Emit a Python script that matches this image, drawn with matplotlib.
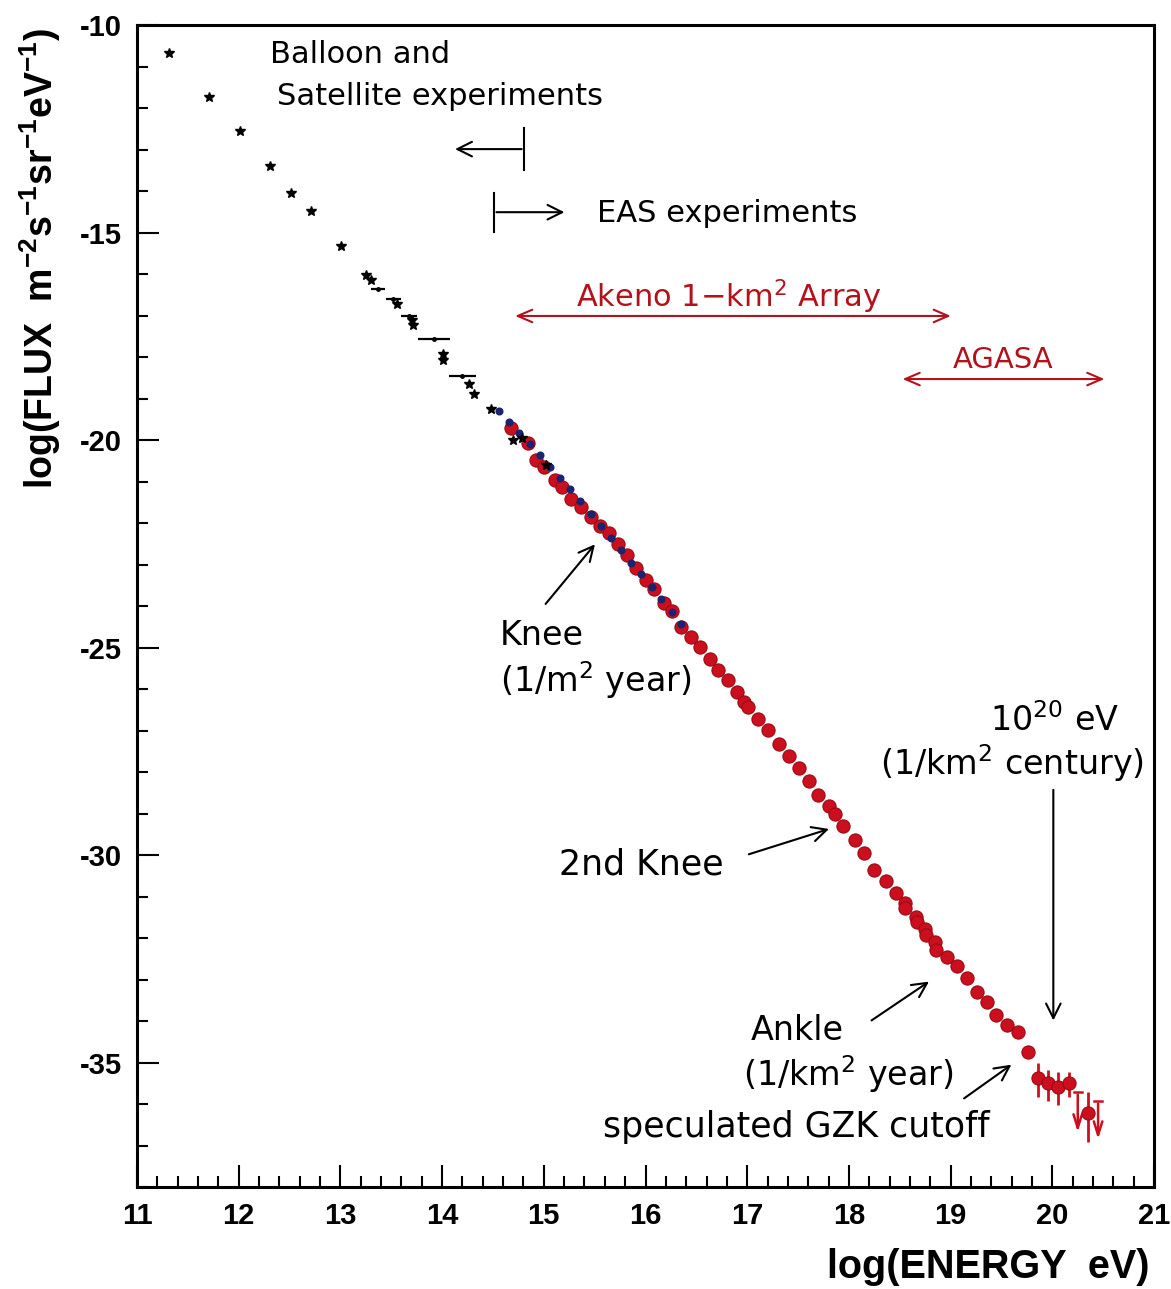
import matplotlib
matplotlib.use('Agg')
import matplotlib.pyplot as plt
from matplotlib.ticker import MultipleLocator

plt.rcParams['axes.unicode_minus'] = False
plt.rcParams['mathtext.default'] = 'regular'

# Balloon / satellite points (stars)
star_e = [11.31, 11.71, 12.01, 12.31, 12.51, 12.71, 13.01, 13.25, 13.30, 13.56,
          13.70, 13.71, 14.01, 14.01, 14.26, 14.31, 14.48, 14.70, 14.79, 15.02]
star_f = [-10.68, -11.74, -12.55, -13.40, -14.05, -14.48, -15.33, -16.02, -16.15, -16.73,
          -17.10, -17.22, -17.93, -18.06, -18.65, -18.89, -19.26, -20.00, -19.96, -20.60]

# wide-bin points with energy range bars
bar_e = [13.37, 13.52, 13.67, 13.92, 14.20]
bar_f = [-16.35, -16.61, -17.01, -17.57, -18.45]
bar_de = [0.065, 0.074, 0.079, 0.158, 0.131]

# small blue points
blue_e = [14.56, 14.66, 14.76, 14.86, 14.96, 15.06, 15.16, 15.26, 15.36, 15.46,
          15.56, 15.66, 15.76, 15.86, 15.96, 16.06, 16.15, 16.26, 16.35]
blue_f = [-19.29, -19.56, -19.82, -20.10, -20.35, -20.64, -20.91, -21.19, -21.46, -21.77,
          -22.07, -22.35, -22.65, -22.95, -23.23, -23.54, -23.84, -24.14, -24.43]

# Akeno / AGASA points
red_e = [14.68, 14.84, 14.92, 15.00, 15.11, 15.18, 15.27, 15.37, 15.46, 15.55,
         15.64, 15.73, 15.82, 15.91, 16.00, 16.08, 16.18, 16.26, 16.35, 16.45,
         16.54, 16.63, 16.71, 16.81, 16.90, 16.97, 17.01, 17.11, 17.20, 17.31,
         17.41, 17.51, 17.61, 17.70, 17.80, 17.86, 17.94, 18.06, 18.15, 18.25,
         18.36, 18.46, 18.55, 18.55, 18.66, 18.67, 18.75, 18.76, 18.85, 18.86,
         18.96, 19.06, 19.16, 19.26, 19.36, 19.45, 19.55, 19.66, 19.76]
red_f = [-19.72, -20.08, -20.48, -20.64, -20.96, -21.14, -21.41, -21.62, -21.85, -22.07,
         -22.25, -22.51, -22.77, -23.09, -23.37, -23.60, -23.92, -24.11, -24.50, -24.74,
         -24.98, -25.28, -25.53, -25.78, -26.07, -26.31, -26.44, -26.71, -26.99, -27.33,
         -27.61, -27.91, -28.22, -28.55, -28.81, -29.00, -29.30, -29.64, -29.96, -30.35,
         -30.62, -30.91, -31.16, -31.28, -31.49, -31.61, -31.79, -31.93, -32.09, -32.29,
         -32.45, -32.68, -32.97, -33.29, -33.54, -33.86, -34.10, -34.26, -34.74]

# highest energy points with error bars
err_e = [19.86, 19.96, 20.06, 20.16, 20.35]
err_f = [-35.38, -35.49, -35.58, -35.49, -36.21]
err_hi = [0.36, 0.32, 0.36, 0.27, 0.51]
err_lo = [0.44, 0.43, 0.44, 0.34, 0.70]

# upper limits
lim_e = [20.25, 20.45]
lim_f = [-35.70, -35.92]
lim_len = [1.04, 0.99]

RED = '#cc0f1e'
TXT_RED = '#b3121c'
NAVY = '#1b2470'
FONT = ['DejaVu Sans']
BOLD = ['Liberation Sans', 'DejaVu Sans']

fig = plt.figure(figsize=(11.71, 12.89), dpi=100)
ax = fig.add_axes([0.117, 0.079, 0.8685, 0.9016])

ax.plot(red_e, red_f, 'o', ms=9.5, mfc=RED, mec='#9a0c14', mew=0.8, zorder=3)
ax.errorbar(err_e, err_f, yerr=[err_lo, err_hi], fmt='o', ms=9.5, mfc=RED,
            mec='#9a0c14', mew=0.8, ecolor=RED, elinewidth=2, capsize=0, zorder=3)
for e, f, l in zip(lim_e, lim_f, lim_len):
    ax.plot([e - 0.04, e + 0.04], [f, f], color=RED, lw=1.8, zorder=3)
    ax.annotate('', xy=(e, f - l), xytext=(e, f),
                arrowprops=dict(arrowstyle='->,head_length=0.7,head_width=0.22',
                                color=RED, lw=1.8, mutation_scale=14), zorder=3)
ax.plot(blue_e, blue_f, 'o', ms=4.8, mfc=NAVY, mec=NAVY, zorder=4)
ax.errorbar(bar_e, bar_f, xerr=bar_de, fmt='o', ms=2.5, color='black',
            elinewidth=1.6, capsize=0, zorder=4)
ax.plot(star_e, star_f, '*', ms=7.5, color='black', zorder=5)

ax.set_xlim(11, 21)
ax.set_ylim(-38, -10)
ax.xaxis.set_major_locator(MultipleLocator(1))
ax.xaxis.set_minor_locator(MultipleLocator(0.2))
ax.yaxis.set_major_locator(MultipleLocator(5))
ax.yaxis.set_minor_locator(MultipleLocator(1))
ax.tick_params(which='both', direction='in', top=False, right=False, width=1.5)
ax.tick_params(which='major', length=16, pad=11)
ax.tick_params(which='minor', length=8)
for lab in ax.get_xticklabels() + ax.get_yticklabels():
    lab.set_family(BOLD)
    lab.set_fontweight('bold')
    lab.set_fontsize(21)
for sp in ax.spines.values():
    sp.set_linewidth(2.2)

fig.text(0.982, 0.017, 'log(ENERGY  eV)', ha='right', va='center',
         family=BOLD, fontweight='bold', fontsize=28.5)
fig.text(0.034, 0.978, r'log(FLUX  m$^{-2}$s$^{-1}$sr$^{-1}$eV$^{-1}$)', rotation=90,
         ha='center', va='top', family=BOLD, fontweight='bold', fontsize=27)

# experiment ranges
ax.text(12.31, -10.72, 'Balloon and', fontsize=22, family=FONT, va='center')
ax.text(12.38, -11.73, 'Satellite experiments', fontsize=22, family=FONT, va='center')
ax.plot([14.81, 14.81], [-12.48, -13.49], color='black', lw=1.5)
ax.annotate('', xy=(14.10, -12.99), xytext=(14.81, -12.99),
            arrowprops=dict(arrowstyle='->,head_length=0.7,head_width=0.35',
                            color='black', lw=1.5, mutation_scale=15))
ax.plot([14.507, 14.507], [-14.05, -14.99], color='black', lw=1.5)
ax.annotate('', xy=(15.23, -14.51), xytext=(14.507, -14.51),
            arrowprops=dict(arrowstyle='->,head_length=0.7,head_width=0.35',
                            color='black', lw=1.5, mutation_scale=15))
ax.text(15.52, -14.55, 'EAS experiments', fontsize=22, family=FONT, va='center')

ax.text(15.32, -16.55, r'Akeno 1$-$km$^2$ Array', fontsize=22, family=FONT,
        va='center', color=TXT_RED)
ax.annotate('', xy=(19.03, -17.01), xytext=(14.69, -17.01),
            arrowprops=dict(arrowstyle='<->,head_length=0.7,head_width=0.3',
                            color=TXT_RED, lw=1.5, mutation_scale=15))
ax.text(19.52, -18.07, 'AGASA', fontsize=21, family=FONT, va='center',
        ha='center', color=TXT_RED)
ax.annotate('', xy=(20.54, -18.53), xytext=(18.50, -18.53),
            arrowprops=dict(arrowstyle='<->,head_length=0.7,head_width=0.3',
                            color=TXT_RED, lw=1.5, mutation_scale=15))

# spectral features
arr = dict(arrowstyle='->,head_length=0.7,head_width=0.35', color='black',
           lw=1.5, mutation_scale=15)
ax.text(14.57, -24.72, 'Knee', fontsize=24, family=FONT, va='center')
ax.text(14.57, -25.78, r'(1/m$^2$ year)', fontsize=24, family=FONT, va='center')
ax.annotate('', xy=(15.52, -22.46), xytext=(15.0, -24.0), arrowprops=arr)

ax.text(20.02, -26.75, r'10$^{20}$ eV', fontsize=24, family=FONT, va='center', ha='center')
ax.text(19.60, -27.78, r'(1/km$^2$ century)', fontsize=24, family=FONT, va='center',
        ha='center')
ax.annotate('', xy=(20.01, -34.05), xytext=(20.01, -28.36), arrowprops=arr)

ax.text(15.15, -30.22, '2nd Knee', fontsize=25, family=FONT, va='center')
ax.annotate('', xy=(17.83, -29.35), xytext=(16.99, -30.0), arrowprops=arr)

ax.text(17.49, -34.22, 'Ankle', fontsize=24, family=FONT, va='center', ha='center')
ax.text(17.99, -35.28, r'(1/km$^2$ year)', fontsize=24, family=FONT, va='center',
        ha='center')
ax.annotate('', xy=(18.81, -33.01), xytext=(18.20, -34.02), arrowprops=arr)

ax.text(17.48, -36.55, 'speculated GZK cutoff', fontsize=25, family=FONT,
        va='center', ha='center')
ax.annotate('', xy=(19.62, -35.01), xytext=(19.11, -35.90), arrowprops=arr)

fig.savefig('out.png', dpi=100)
